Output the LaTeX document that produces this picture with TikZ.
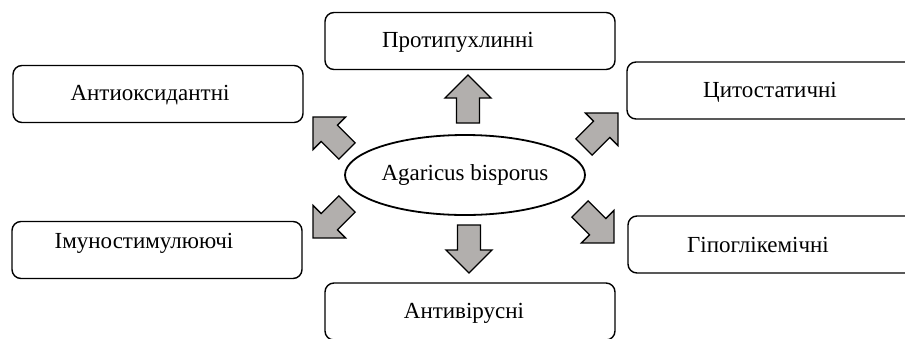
\documentclass[tikz,border=0pt]{standalone}
\usepackage{fontspec}
\setmainfont{Liberation Serif}
\usetikzlibrary{shapes.geometric}

\definecolor{arrowgray}{RGB}{178,175,173}

% block arrow: #1 tail point, #2 direction
\newcommand{\blockarrow}[2]{%
  \draw[blockarr, shift={#1}, rotate=#2]
    (0,-11.5) -- (25,-11.5) -- (25,-23) -- (48,0) -- (25,23) -- (25,11.5) -- (0,11.5) -- cycle;}

\begin{document}
\begin{tikzpicture}[x=1pt, y=-1pt,
  box/.style={rectangle, rounded corners=9pt, draw, line width=1.4pt, minimum width=290pt, minimum height=57pt, inner sep=0pt},
  oval/.style={ellipse, draw, line width=1.8pt, minimum width=240pt, minimum height=80pt, inner sep=0pt, font=\fontsize{23}{27}\selectfont},
  lbl/.style={anchor=base, inner sep=0pt, font=\fontsize{23}{27}\selectfont},
  blockarr/.style={draw, fill=arrowgray, line width=1.3pt, line join=miter}
]
  \clip (0,0) rectangle (905,338);

  \node[oval] (agaricus) at (465,175) {Agaricus bisporus};

  % boxes
  \node[box] (protyp) at (470,41) {};
  \node[box] (antiox) at (158,94) {};
  \node[box] (tsyto) at (772,90.5) {};
  \node[box] (hipo) at (773,244.5) {};
  \node[box] (imuno) at (157,250) {};
  \node[box] (antivir) at (470,311.5) {};

  \node[lbl] (protyp-t) at (458,47) {Протипухлинні};
  \node[lbl] (antiox-t) at (150,100) {Антиоксидантні};
  \node[lbl] (tsyto-t) at (770,97) {Цитостатичні};
  \node[lbl] (hipo-t) at (758,252) {Гіпоглікемічні};
  \node[lbl] (imuno-t) at (144,248) {Імуностимулюючі};
  \node[lbl] (antivir-t) at (464,318) {Антивірусні};

  % arrows
  \blockarrow{(468,123)}{90}
  \blockarrow{(469,225)}{-90}
  \blockarrow{(347,151)}{135}
  \blockarrow{(347,204)}{225}
  \blockarrow{(584,147)}{45}
  \blockarrow{(580,209)}{-45}
\end{tikzpicture}
\end{document}
